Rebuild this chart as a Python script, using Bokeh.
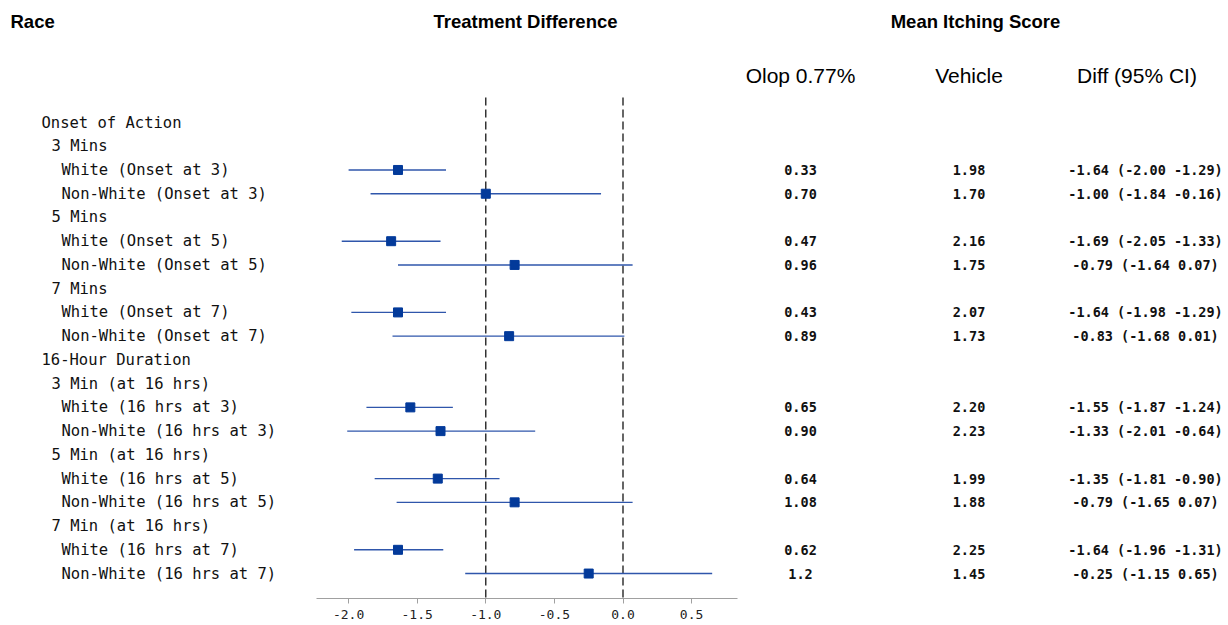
from bokeh.plotting import figure
from bokeh.models import Range1d, ColumnDataSource, FixedTicker
from bokeh.core.properties import value
from bokeh.embed import file_html
from bokeh.resources import INLINE

# ---------------- data ----------------
row_labels = [
    "Onset of Action",
    "3 Mins",
    "White (Onset at 3)",
    "Non-White (Onset at 3)",
    "5 Mins",
    "White (Onset at 5)",
    "Non-White (Onset at 5)",
    "7 Mins",
    "White (Onset at 7)",
    "Non-White (Onset at 7)",
    "16-Hour Duration",
    "3 Min (at 16 hrs)",
    "White (16 hrs at 3)",
    "Non-White (16 hrs at 3)",
    "5 Min (at 16 hrs)",
    "White (16 hrs at 5)",
    "Non-White (16 hrs at 5)",
    "7 Min (at 16 hrs)",
    "White (16 hrs at 7)",
    "Non-White (16 hrs at 7)",
]
row_levels = [0, 1, 2, 2, 1, 2, 2, 1, 2, 2, 0, 1, 2, 2, 1, 2, 2, 1, 2, 2]
data_rows = [2, 3, 5, 6, 8, 9, 12, 13, 15, 16, 18, 19]

diff_est = [-1.64, -1.00, -1.69, -0.79, -1.64, -0.83, -1.55, -1.33, -1.35, -0.79, -1.64, -0.25]
diff_lo = [-2.00, -1.84, -2.05, -1.64, -1.98, -1.68, -1.87, -2.01, -1.81, -1.65, -1.96, -1.15]
diff_hi = [-1.29, -0.16, -1.33, 0.07, -1.29, 0.01, -1.24, -0.64, -0.90, 0.07, -1.31, 0.65]
olop = ["0.33", "0.70", "0.47", "0.96", "0.43", "0.89", "0.65", "0.90", "0.64", "1.08", "0.62", "1.2"]
vehicle = ["1.98", "1.70", "2.16", "1.75", "2.07", "1.73", "2.20", "2.23", "1.99", "1.88", "2.25", "1.45"]

x_ticks = [-2.0, -1.5, -1.0, -0.5, 0.0, 0.5]
ref_lines = [-1.0, 0.0]
axis_bounds = (-2.2376, 0.838)

# ---------------- layout helpers ----------------
W, FH = 1228, 598
PX_PER_X = 137.2
X0_PX = 622.5
x_start = -X0_PX / PX_PER_X
x_end = (W - X0_PX) / PX_PER_X
ROW_PX = 23.74
ROW0_PX = 122.0
y_top = -ROW0_PX / ROW_PX
y_bottom = (FH - ROW0_PX) / ROW_PX


def xpx(c):
    return x_start + c / PX_PER_X


def ypx(c):
    return (c - ROW0_PX) / ROW_PX


p = figure(
    frame_width=W, frame_height=FH,
    x_range=Range1d(x_start, x_end), y_range=Range1d(y_bottom, y_top),
    output_backend="svg", toolbar_location=None, y_axis_location=None,
    min_border_left=0, min_border_right=0, min_border_top=0, min_border_bottom=0,
)
p.outline_line_color = None
p.grid.visible = False
p.background_fill_color = "white"
p.border_fill_color = "white"

ax = p.xaxis[0]
ax.bounds = axis_bounds
ax.ticker = FixedTicker(ticks=x_ticks, minor_ticks=[])
ax.major_label_overrides = {t: f"{t:.1f}" for t in x_ticks}
ax.axis_line_color = "#a0a0a0"
ax.major_tick_line_color = "#a0a0a0"
ax.minor_tick_line_color = None
ax.major_tick_in = 0
ax.major_tick_out = 5
ax.major_label_standoff = 6
ax.major_label_text_font = "DejaVu Sans Mono"
ax.major_label_text_font_size = "13px"
ax.major_label_text_color = "#222222"

# reference lines
p.segment(x0=ref_lines, x1=ref_lines, y0=[ypx(97)] * len(ref_lines), y1=[y_bottom + 1] * len(ref_lines),
          line_color="black", line_width=1.2, line_dash="8 4")

# CIs and estimates
ys = data_rows
src = ColumnDataSource(dict(y=ys, est=diff_est, lo=diff_lo, hi=diff_hi))
p.segment(x0="lo", x1="hi", y0="y", y1="y", source=src, line_color="#2f56ab", line_width=1.4)
p.scatter(x="est", y="y", source=src, marker="square", size=9,
          fill_color="#033a9a", line_color="#033a9a")

# row labels
lab_src = ColumnDataSource(dict(
    x=[xpx(41 + 10 * lv) for lv in row_levels],
    y=list(range(len(row_labels))),
    text=row_labels,
))
p.text(x="x", y="y", text="text", source=lab_src, text_font=value("DejaVu Sans Mono"),
       text_font_size="15.5px", text_baseline="middle", text_align="left", text_color="#111111")

# table columns
diff_txt = [f"{e:.2f} ({l:.2f} {h:.2f})" for e, l, h in zip(diff_est, diff_lo, diff_hi)]
for col_x, texts in [(800, olop), (968.5, vehicle), (1145, diff_txt)]:
    p.text(x=[xpx(col_x)] * len(texts), y=ys, text=texts, text_font=value("DejaVu Sans Mono"),
           text_font_size="13.5px", text_font_style="bold", text_baseline="middle",
           text_align="center", text_color="#111111")

# headers
p.text(x=[xpx(10)], y=[ypx(21)], text=["Race"], text_font=value("Liberation Sans"),
       text_font_style="bold", text_font_size="18.5px", text_baseline="middle", text_align="left",
       text_color="black")
p.text(x=[xpx(525), xpx(975)], y=[ypx(21)] * 2, text=["Treatment Difference", "Mean Itching Score"],
       text_font=value("Liberation Sans"), text_font_style="bold", text_font_size="18.5px",
       text_baseline="middle", text_align="center", text_color="black")
p.text(x=[xpx(800), xpx(968.5), xpx(1136.5)], y=[ypx(75)] * 3,
       text=["Olop 0.77%", "Vehicle", "Diff (95% CI)"],
       text_font=value("Liberation Sans"), text_font_size="21px",
       text_baseline="middle", text_align="center", text_color="black")

open("out.html", "w").write(file_html(p, INLINE))
